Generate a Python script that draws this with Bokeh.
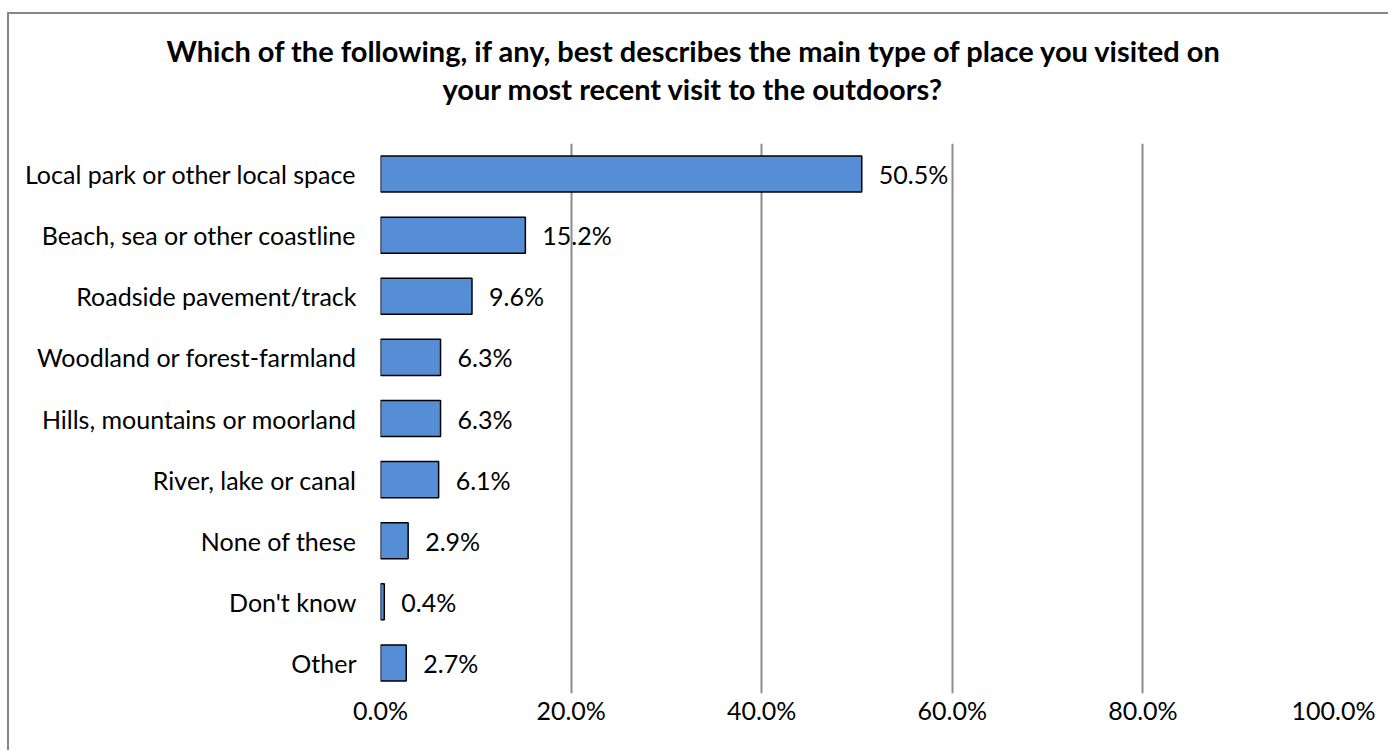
from bokeh.plotting import figure
from bokeh.models import FactorRange, Range1d, FixedTicker, PrintfTickFormatter, ColumnDataSource, Title
from bokeh.core.properties import value
from bokeh.embed import file_html
from bokeh.resources import INLINE

categories = ["Local park or other local space", "Beach, sea or other coastline",
              "Roadside pavement/track", "Woodland or forest-farmland",
              "Hills, mountains or moorland", "River, lake or canal",
              "None of these", "Don't know", "Other"]
values = [50.5, 15.2, 9.6, 6.3, 6.3, 6.1, 2.9, 0.4, 2.7]
x_ticks = [0, 20, 40, 60, 80, 100]
title_lines = ["Which of the following, if any, best describes the main type of place you visited on",
               "your most recent visit to the outdoors?"]

labels = [f"{v:.1f}%" for v in values]
src = ColumnDataSource(dict(cat=categories, val=values, label=labels))

FONT = "Lato"
GRID = "#8c8c8c"

p = figure(title=None,
           y_range=FactorRange(factors=list(reversed(categories))),
           x_range=Range1d(0, 100),
           width=1381, height=738,
           output_backend="svg", toolbar_location=None,
           min_border_left=371, min_border_right=57,
           min_border_top=129, min_border_bottom=59,
           styles={"border-left": "2px solid #868686", "border-top": "2px solid #868686",
                   "margin-left": "7px", "margin-top": "12px"})

p.hbar(y="cat", right="val", left=0, height=0.59, source=src,
       fill_color="#558ED5", line_color="black", line_width=1.5)
p.text(x="val", y="cat", text="label", source=src, x_offset=17,
       text_baseline="middle", text_align="left",
       text_font=value(FONT), text_font_size="25px", text_color="black")

# title lines: second line nearest the frame, first line above it
for txt, off, stand in [(title_lines[1], 62, 76), (title_lines[0], -214, -74)]:
    p.add_layout(Title(text=txt, align="left", offset=off, standoff=stand,
                       text_font=FONT, text_font_style="bold", text_font_size="29px",
                       text_color="black"), "above")

p.outline_line_color = None
p.ygrid.grid_line_color = None
p.xgrid.ticker = FixedTicker(ticks=x_ticks)
p.xgrid.grid_line_color = GRID
p.xgrid.grid_line_width = 2

p.xaxis.ticker = FixedTicker(ticks=x_ticks)
p.xaxis.formatter = PrintfTickFormatter(format="%.1f%%")
p.xaxis.axis_line_color = None
p.xaxis.major_tick_line_color = None
p.xaxis.minor_tick_line_color = None
p.xaxis.major_tick_out = 0
p.xaxis.minor_tick_out = 0
p.xaxis.major_label_standoff = 1
p.xaxis.major_label_text_font = FONT
p.xaxis.major_label_text_font_size = "25px"
p.xaxis.major_label_text_color = "black"

p.yaxis.axis_line_color = None
p.yaxis.major_tick_line_color = None
p.yaxis.minor_tick_line_color = None
p.yaxis.major_tick_out = 0
p.yaxis.minor_tick_out = 0
p.yaxis.major_label_standoff = 24
p.yaxis.major_label_text_font = FONT
p.yaxis.major_label_text_font_size = "25px"
p.yaxis.major_label_text_color = "black"

open("out.html", "w").write(file_html(p, INLINE))
